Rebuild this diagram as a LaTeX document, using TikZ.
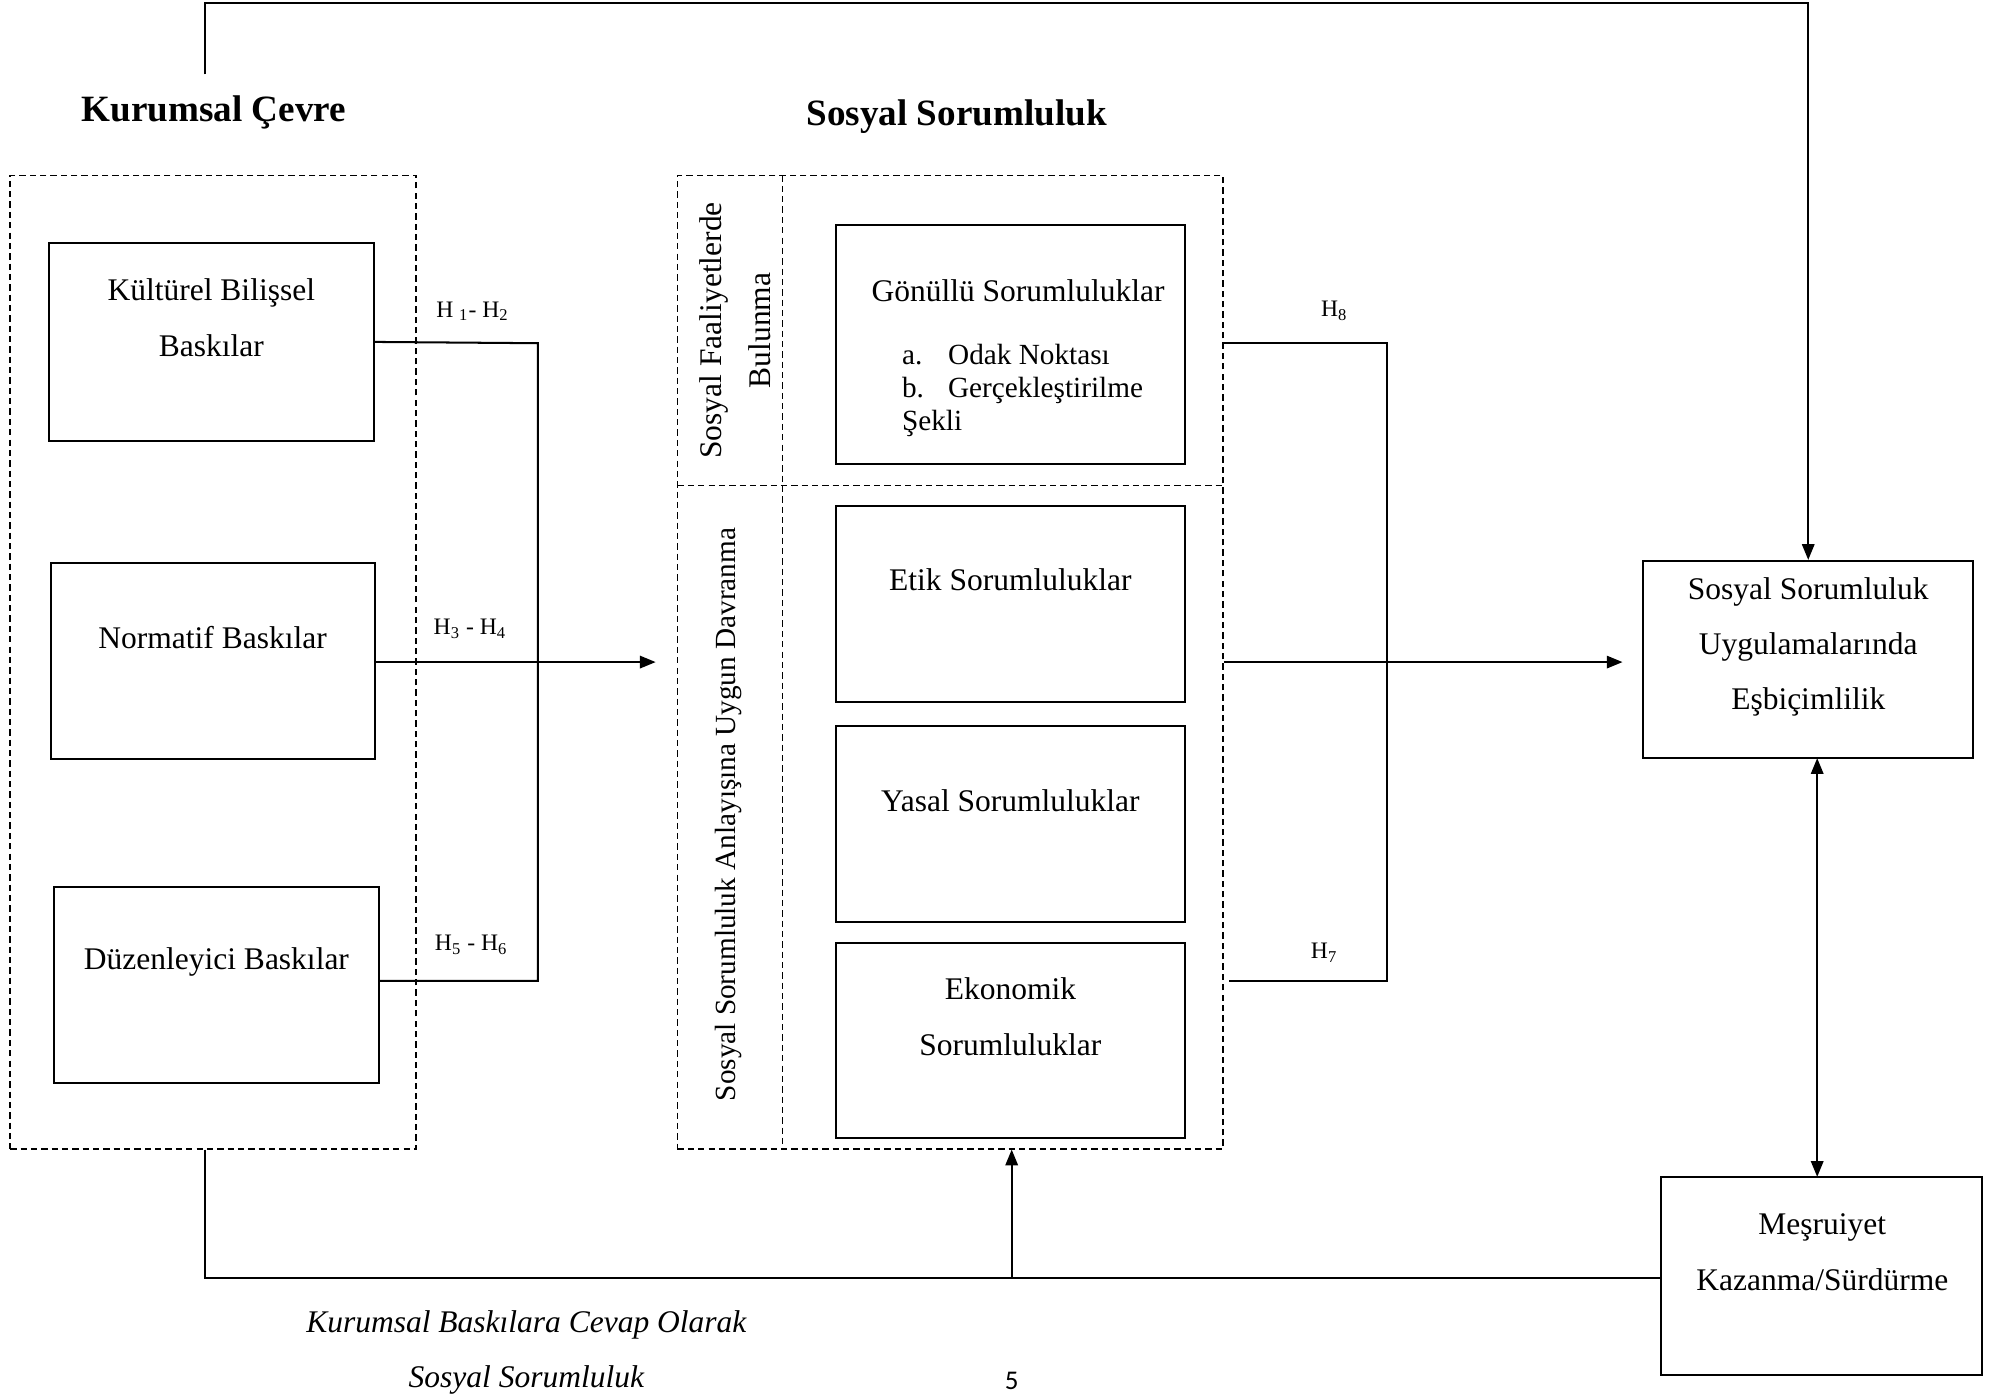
\documentclass[tikz,border=0pt]{standalone}
\usepackage{fontspec}
\setmainfont{Liberation Serif}
\newfontfamily\sayfafont{Carlito}
\usepackage{tikz}
\usetikzlibrary{arrows.meta,positioning,calc,fit}
\tikzset{
  kutu/.style={draw,line width=0.9pt,inner sep=0pt},
  kesik/.style={draw,line width=0.75pt,dash pattern=on 2.8pt off 1.8pt,inner sep=0pt},
  kesikhat/.style={line width=0.75pt,dash pattern=on 2.8pt off 1.8pt},
  yazi/.style={font=\fontsize{14}{25}\selectfont,align=center,inner sep=0pt},
  baslik/.style={font=\fontsize{16.5}{20}\selectfont\bfseries,inner sep=0pt},
  hyazi/.style={font=\fontsize{10.5}{12}\selectfont,inner sep=0pt},
  hat/.style={line width=0.9pt},
  ok/.style={hat,-{Triangle[length=7pt,width=5.5pt]}},
  ciftok/.style={hat,{Triangle[length=7pt,width=5.5pt]}-{Triangle[length=7pt,width=5.5pt]}},
}

\begin{document}
\begin{tikzpicture}[x=0.02cm,y=-0.02cm]
\useasboundingbox (0,0) rectangle (1568,1092);

\node[baslik] (kcbaslik) at (167,88) {Kurumsal Çevre};
\node[baslik] (ssbaslik) at (747,91) {Sosyal Sorumluluk};

\node[kesik,fit={(8,137) (325,897)}] (kc) {};
\node[kutu,fit={(38,190) (292,344)}] (kb) {};
\node[kutu,fit={(40,440) (293,593)}] (nb) {};
\node[kutu,fit={(42,693) (296,846)}] (db) {};
\node[yazi] (kbyazi) at (165,248) {Kültürel Bilişsel\\Baskılar};
\node[yazi] (nbyazi) at (166,498) {Normatif Baskılar};
\node[yazi] (dbyazi) at (169,751) {Düzenleyici Baskılar};

\node[kesik,fit={(529,137) (955,897)}] (ss) {};
\draw[kesikhat] (611,137) -- (611,897);
\draw[kesikhat] (529,379) -- (955,379);
\node[yazi,rotate=90,font=\fontsize{14}{22}\selectfont] (sfb) at (574,258) {Sosyal Faaliyetlerde\\Bulunma};
\node[yazi,rotate=90,font=\fontsize{13}{16}\selectfont] (ssud) at (569,636) {Sosyal Sorumluluk Anlayışına Uygun Davranma};

\node[kutu,fit={(653,176) (925,362)}] (gs) {};
\node[kutu,fit={(653,395) (925,548)}] (es) {};
\node[kutu,fit={(653,567) (925,720)}] (ys) {};
\node[kutu,fit={(653,736) (925,889)}] (eks) {};
\node[yazi] (gsyazi) at (795,227) {Gönüllü Sorumluluklar};
\node[yazi,font=\fontsize{13}{14.7}\selectfont,align=left,anchor=west] (gsliste) at (704,305)
  {\makebox[20.5pt][l]{a.}Odak Noktası\\\makebox[20.5pt][l]{b.}Gerçekleştirilme\\Şekli};
\node[yazi] (esyazi) at (789,453) {Etik Sorumluluklar};
\node[yazi] (ysyazi) at (789,625) {Yasal Sorumluluklar};
\node[yazi] (eksyazi) at (789,794) {Ekonomik\\Sorumluluklar};

\node[kutu,fit={(1283,438) (1541,592)}] (se) {};
\node[yazi,font=\fontsize{14}{24.4}\selectfont] (seyazi) at (1412,505) {Sosyal Sorumluluk\\Uygulamalarında\\Eşbiçimlilik};
\node[kutu,fit={(1297,919) (1548,1074)}] (mk) {};
\node[yazi] (mkyazi) at (1423,978) {Meşruiyet\\Kazanma/Sürdürme};

\node[hyazi] (h12) at (369,243) {H \textsubscript{1}- H\textsubscript{2}};
\node[hyazi] (h34) at (367,491) {H\textsubscript{3} - H\textsubscript{4}};
\node[hyazi] (h56) at (368,738) {H\textsubscript{5} - H\textsubscript{6}};
\node[hyazi] (h8) at (1042,243) {H\textsubscript{8}};
\node[hyazi] (h7) at (1034,744) {H\textsubscript{7}};

\coordinate (sol) at (420,268);
\coordinate (solalt) at (420,766);
\coordinate (sag) at (1083,268);
\coordinate (sagalt) at (1083,766);
\coordinate (ssgiris) at (512,517);
\coordinate (segiris) at (1267,517);
\coordinate (ustbas) at (160,58);
\coordinate (altsol) at (160,998);
\coordinate (altorta) at (790,998);

\draw[hat] (kb.east) -- (sol) -- (solalt) -- (db.east |- solalt);
\draw[ok] (nb.east |- ssgiris) -- (ssgiris);
\draw[hat] (ss.east |- sag) -- (sag) -- (sagalt) -- (960,766);
\draw[ok] (ss.east |- segiris) -- (segiris);
\draw[ok] (ustbas) -- (160,2) -- (se.north |- 0,2) -- (se.north);
\draw[hat] (altsol |- kc.south) -- (altsol) -- (mk.west |- altorta);
\draw[ok] (altorta) -- (altorta |- ss.south);
\draw[ciftok] (1419,592) -- (1419,919);

\node[yazi,font=\fontsize{14}{24.4}\selectfont\itshape] (altyazi) at (411,1056) {Kurumsal Baskılara Cevap Olarak\\Sosyal Sorumluluk};
\node[inner sep=0pt,font=\sayfafont\fontsize{12}{14}\selectfont] (sayfa) at (790,1078) {5};
\end{tikzpicture}
\end{document}
